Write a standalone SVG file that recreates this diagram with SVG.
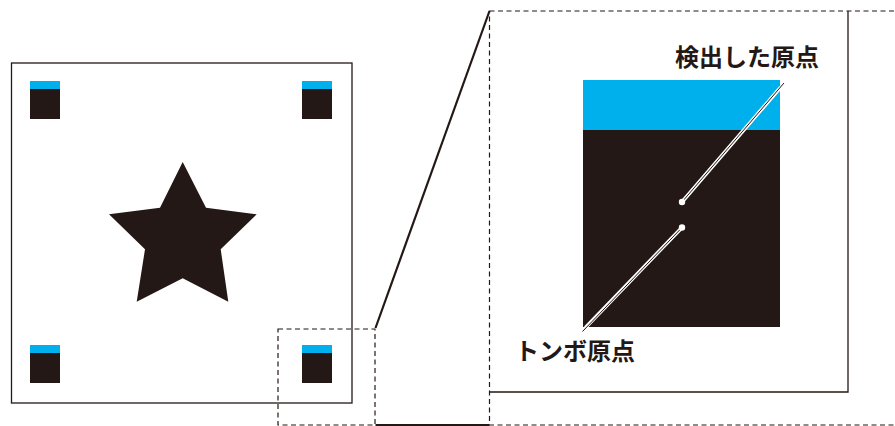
<svg xmlns="http://www.w3.org/2000/svg" width="895" height="426" viewBox="0 0 895 426">
<defs>
<style>
.frame{fill:none;stroke:#231815;stroke-width:1.3}
.dash{fill:none;stroke:#231815;stroke-width:1.2;stroke-dasharray:5 3.5}
.link{fill:none;stroke:#231815;stroke-width:2.2}
.cyan{fill:#00b0ec}
.blk{fill:#231815}
.halo{fill:none;stroke:#fff;stroke-width:3.6;stroke-linecap:round}
.core{fill:none;stroke:#231815;stroke-width:1}
.dot{fill:#fff}
.lbl{font-family:"Noto Sans CJK JP","Noto Sans",sans-serif;font-weight:700;font-size:24px;fill:#231815}
</style>
</defs>
<rect width="895" height="426" fill="#fff"/>
<g id="sheet">
<rect class="frame" x="11.5" y="63" width="340.5" height="340"/>
<polygon class="blk" points="182.7,162 206,207.7 256.7,214.3 220.7,249.3 228.3,301.7 182.7,278.3 136.7,301.7 145,249.3 109,214.3 160,207.7"/>
</g>
<g id="mark-tl"><rect class="cyan" x="30" y="81" width="30" height="8"/><rect class="blk" x="30" y="89" width="30" height="30"/></g>
<g id="mark-tr"><rect class="cyan" x="302" y="81" width="30" height="8"/><rect class="blk" x="302" y="89" width="30" height="30"/></g>
<g id="mark-bl"><rect class="cyan" x="30" y="345" width="30" height="8"/><rect class="blk" x="30" y="353" width="30" height="30"/></g>
<g id="mark-br"><rect class="cyan" x="302" y="345" width="30" height="8"/><rect class="blk" x="302" y="353" width="30" height="30"/></g>
<g id="zoom-area"><rect class="dash" x="278" y="329" width="97" height="96"/></g>
<g id="connectors">
<line class="link" x1="375.5" y1="328" x2="489.5" y2="11"/>
<line class="link" x1="375.5" y1="425" x2="489.5" y2="425"/>
</g>
<g id="detail">
<rect class="dash" x="489.5" y="11" width="420" height="414"/>
<polyline class="frame" points="489.5,392 848,392 848,11"/>
<rect class="cyan" x="583" y="80" width="197" height="50"/>
<rect class="blk" x="583" y="130" width="197" height="197"/>
</g>
<g id="label-detected">
<line class="halo" x1="682" y1="202" x2="780" y2="88"/>
<line class="core" x1="682" y1="202" x2="784" y2="83"/>
<circle class="dot" cx="682" cy="202" r="3.2"/>
<text class="lbl" x="675" y="66">検出した原点</text>
</g>
<g id="label-tombo">
<line class="halo" x1="682" y1="227.5" x2="586" y2="327"/>
<line class="core" x1="682" y1="227.5" x2="582.5" y2="331.5"/>
<circle class="dot" cx="682" cy="227.5" r="3.2"/>
<text class="lbl" x="515" y="360">トンボ原点</text>
</g>
</svg>
